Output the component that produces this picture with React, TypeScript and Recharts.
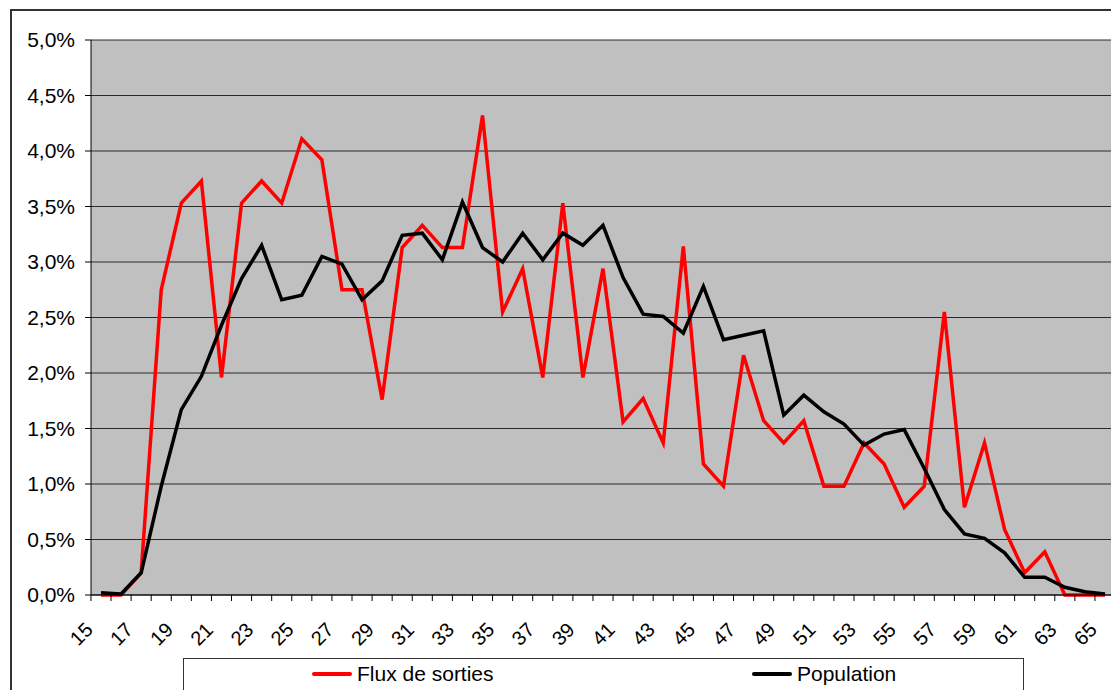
import { LineChart, Line, XAxis, YAxis, CartesianGrid } from "recharts";

// Age categories (x axis)
const ages = [
  15, 16, 17, 18, 19, 20, 21, 22, 23, 24, 25, 26, 27, 28, 29, 30, 31, 32, 33,
  34, 35, 36, 37, 38, 39, 40, 41, 42, 43, 44, 45, 46, 47, 48, 49, 50, 51, 52,
  53, 54, 55, 56, 57, 58, 59, 60, 61, 62, 63, 64, 65,
];

// Share of exits per age, in %
const fluxSorties = [
  0, 0, 0.2, 2.75, 3.53, 3.73, 1.96, 3.53, 3.73, 3.53, 4.11, 3.92, 2.75, 2.75,
  1.76, 3.13, 3.33, 3.13, 3.13, 4.32, 2.55, 2.94, 1.96, 3.53, 1.96, 2.94, 1.56,
  1.77, 1.37, 3.14, 1.18, 0.98, 2.16, 1.57, 1.37, 1.57, 0.98, 0.98, 1.37, 1.18,
  0.79, 0.98, 2.55, 0.79, 1.37, 0.59, 0.2, 0.39, 0, 0, 0,
];

// Share of population per age, in %
const population = [
  0.02, 0.01, 0.2, 0.98, 1.67, 1.97, 2.43, 2.85, 3.15, 2.66, 2.7, 3.05, 2.98,
  2.66, 2.83, 3.24, 3.26, 3.02, 3.54, 3.13, 3.0, 3.26, 3.02, 3.26, 3.15, 3.33,
  2.86, 2.53, 2.51, 2.36, 2.78, 2.3, 2.34, 2.38, 1.62, 1.8, 1.65, 1.54, 1.35,
  1.45, 1.49, 1.14, 0.77, 0.55, 0.51, 0.38, 0.16, 0.16, 0.07, 0.03, 0.01,
];

const yTicks = [0, 0.5, 1, 1.5, 2, 2.5, 3, 3.5, 4, 4.5, 5];

const data = ages.map((age, i) => ({
  age,
  flux: fluxSorties[i],
  pop: population[i],
}));

const FONT = '"Liberation Sans", Arial, sans-serif';
const CHART_W = 1130;
const CHART_H = 690;
const PLOT_LEFT = 91;
const PLOT_RIGHT_MARGIN = 15;
const PAD = 10;
const PLOT_W = CHART_W - PLOT_LEFT - PLOT_RIGHT_MARGIN;
const STEP = (PLOT_W - 2 * PAD) / (ages.length - 1);

const fmtPct = (v: number) => v.toFixed(1).replace(".", ",") + "%";

// Excel-style category ticks: marks between categories, every other label rotated
const AgeTick = (props: any) => {
  const { x, y, payload } = props;
  const idx = payload?.index ?? props.index ?? 0;
  const half = STEP / 2;
  const ax = x - 7;
  const ay = y + 36;
  return (
    <g>
      <line x1={x - half} x2={x - half} y1={y} y2={y + 6} stroke="#000" strokeWidth={1} />
      {idx === ages.length - 1 && (
        <line x1={x + half} x2={x + half} y1={y} y2={y + 6} stroke="#000" strokeWidth={1} />
      )}
      {idx % 2 === 0 && (
        <text
          x={ax}
          y={ay}
          textAnchor="end"
          transform={`rotate(-45 ${ax} ${ay})`}
          fontSize={20}
          fontFamily={FONT}
          fill="#000"
        >
          {payload.value}
        </text>
      )}
    </g>
  );
};

const LegendItem = ({ color, label, left }: { color: string; label: string; left: number }) => (
  <div
    style={{
      position: "absolute",
      left,
      top: 3,
      height: 24,
      display: "flex",
      alignItems: "center",
      whiteSpace: "nowrap",
    }}
  >
    <span style={{ display: "inline-block", width: 40, height: 4, borderRadius: 2, background: color }} />
    <span style={{ marginLeft: 5, fontSize: 21, lineHeight: "24px", color: "#000" }}>{label}</span>
  </div>
);

export default function App() {
  return (
    <div
      style={{
        position: "absolute",
        left: 0,
        top: 0,
        width: 1111,
        height: 690,
        overflow: "hidden",
        background: "#fff",
        fontFamily: FONT,
      }}
    >
      <div
        style={{
          position: "absolute",
          left: 10,
          top: 9,
          width: 1200,
          height: 800,
          border: "2px solid #333",
          boxSizing: "border-box",
        }}
      />
      <div style={{ position: "absolute", left: 0, top: 0 }}>
        <LineChart
          width={CHART_W}
          height={CHART_H}
          data={data}
          margin={{ top: 40, right: PLOT_RIGHT_MARGIN, bottom: 0, left: 0 }}
        >
          <CartesianGrid vertical={false} stroke="#2a2a2a" strokeWidth={1} fill="#c0c0c0" />
          <XAxis
            dataKey="age"
            type="category"
            height={95}
            interval={0}
            padding={{ left: PAD, right: PAD }}
            axisLine={{ stroke: "#000", strokeWidth: 1 }}
            tickLine={false}
            tickSize={0}
            tickMargin={0}
            tick={<AgeTick />}
          />
          <YAxis
            width={PLOT_LEFT}
            domain={[0, 5]}
            ticks={yTicks}
            interval={0}
            tickFormatter={fmtPct}
            axisLine={{ stroke: "#000", strokeWidth: 1 }}
            tickLine={{ stroke: "#000" }}
            tickSize={6}
            tickMargin={10}
            tick={{ fontSize: 21, fill: "#000", fontFamily: FONT }}
          />
          <Line
            type="linear"
            dataKey="flux"
            name="Flux de sorties"
            stroke="#ff0000"
            strokeWidth={3.5}
            dot={false}
            activeDot={false}
            isAnimationActive={false}
          />
          <Line
            type="linear"
            dataKey="pop"
            name="Population"
            stroke="#000000"
            strokeWidth={3.5}
            dot={false}
            activeDot={false}
            isAnimationActive={false}
          />
        </LineChart>
      </div>
      <div
        style={{
          position: "absolute",
          left: 183,
          top: 658,
          width: 841,
          height: 60,
          border: "1px solid #333",
          background: "#fff",
          boxSizing: "border-box",
        }}
      >
        <LegendItem color="#ff0000" label="Flux de sorties" left={128} />
        <LegendItem color="#000000" label="Population" left={568} />
      </div>
    </div>
  );
}
